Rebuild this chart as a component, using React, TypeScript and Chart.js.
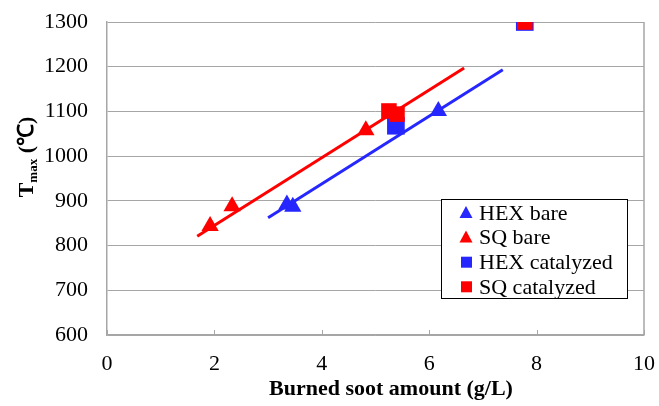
import { useEffect, useRef } from 'react';
import { Chart, registerables } from 'chart.js';
Chart.register(...registerables);

const hexBareX = [3.35, 3.46, 6.17];
const hexBareY = [892, 887, 1101];
const sqBareX = [1.92, 2.33, 4.82];
const sqBareY = [844, 888, 1058];
const hexCatX = [5.38, 7.78];
const hexCatY = [1068, 1300];
const sqCatX = [5.25, 5.4, 7.78];
const sqCatY = [1101, 1094, 1300];
const sqFitX = [1.68, 6.65];
const sqFitY = [821, 1197];
const hexFitX = [3.0, 7.37];
const hexFitY = [862, 1193];
const xTicks = [0, 2, 4, 6, 8, 10];
const yTicks = [600, 700, 800, 900, 1000, 1100, 1200, 1300];
const legendLabels = ['HEX bare', 'SQ bare', 'HEX catalyzed', 'SQ catalyzed'];

const BLUE = '#2626ff';
const RED = '#ff0000';
const GRID = '#a6a6a6';
const SERIF = '"Liberation Serif", "Times New Roman", serif';

const pts = (xs: number[], ys: number[]) => xs.map((x, i) => ({ x, y: ys[i] }));

export default function App() {
  const ref = useRef<HTMLCanvasElement>(null);
  useEffect(() => {
    document.body.style.margin = '0';
    const canvas = ref.current!;
    const decor = {
      id: 'decor',
      beforeDatasetsDraw(chart: any) {
        const { ctx, chartArea: a, scales } = chart;
        ctx.save();
        ctx.strokeStyle = GRID;
        ctx.lineWidth = 1.5;
        ctx.beginPath();
        ctx.moveTo(a.right, a.top);
        ctx.lineTo(a.right, a.bottom);
        ctx.stroke();
        ctx.lineWidth = 1;
        for (const t of xTicks) {
          const x = Math.round(scales.x.getPixelForValue(t)) + 0.5;
          ctx.beginPath();
          ctx.moveTo(x, a.bottom);
          ctx.lineTo(x, a.bottom - 5);
          ctx.stroke();
        }
        ctx.restore();
      },
      afterDraw(chart: any) {
        const { ctx } = chart;
        ctx.save();
        ctx.fillStyle = '#000';
        ctx.font = `bold 22px ${SERIF}`;
        ctx.textAlign = 'center';
        ctx.textBaseline = 'middle';
        ctx.fillText('Burned soot amount (g/L)', 391, 389);
        ctx.translate(26, 157);
        ctx.rotate(-Math.PI / 2);
        ctx.textAlign = 'left';
        ctx.textBaseline = 'alphabetic';
        const big = `bold 22px ${SERIF}`;
        const small = `bold 13px ${SERIF}`;
        ctx.font = big;
        const wT = ctx.measureText('T').width;
        const wP = ctx.measureText(' (℃)').width;
        ctx.font = small;
        const wM = ctx.measureText('max').width;
        const total = wT + wM + wP;
        let x = -total / 2;
        const base = 7;
        ctx.font = big;
        ctx.fillText('T', x, base);
        x += wT;
        ctx.font = small;
        ctx.fillText('max', x, base + 4);
        x += wM;
        ctx.font = big;
        ctx.fillText(' (℃)', x, base);
        ctx.restore();

        ctx.save();
        const lx = 441, ly = 199, lw = 186, lh = 99;
        ctx.fillStyle = '#fff';
        ctx.fillRect(lx, ly, lw, lh);
        ctx.strokeStyle = '#000';
        ctx.lineWidth = 1;
        ctx.strokeRect(lx + 0.5, ly + 0.5, lw, lh);
        const styles = [
          { c: BLUE, s: 'triangle' },
          { c: RED, s: 'triangle' },
          { c: BLUE, s: 'rect' },
          { c: RED, s: 'rect' },
        ];
        ctx.font = `22px ${SERIF}`;
        ctx.textBaseline = 'middle';
        ctx.textAlign = 'left';
        legendLabels.forEach((lab, i) => {
          const cy = 213 + i * 24.6;
          const st = styles[i];
          ctx.fillStyle = st.c;
          if (st.s === 'triangle') {
            ctx.beginPath();
            ctx.moveTo(466, cy - 7);
            ctx.lineTo(472.5, cy + 5);
            ctx.lineTo(459.5, cy + 5);
            ctx.closePath();
            ctx.fill();
          } else {
            ctx.fillRect(461, cy - 5.5, 11, 11);
          }
          ctx.fillStyle = '#000';
          ctx.fillText(lab, 479, cy + 1);
        });
        ctx.restore();
      },
    };

    const chart = new Chart(canvas, {
      type: 'scatter',
      data: {
        datasets: [
          {
            label: 'SQ catalyzed', data: pts(sqCatX, sqCatY), pointStyle: 'rect', pointRadius: 11,
            backgroundColor: RED, borderColor: RED, borderWidth: 0, order: 0,
          },
          {
            label: 'HEX catalyzed', data: pts(hexCatX, hexCatY), pointStyle: 'rect', pointRadius: 12.5,
            backgroundColor: BLUE, borderColor: BLUE, borderWidth: 0, order: 1,
          },
          {
            label: 'SQ bare', data: pts(sqBareX, sqBareY), pointStyle: 'triangle', pointRadius: 10,
            backgroundColor: RED, borderColor: RED, borderWidth: 0, order: 2,
          },
          {
            label: 'HEX bare', data: pts(hexBareX, hexBareY), pointStyle: 'triangle', pointRadius: 10,
            backgroundColor: BLUE, borderColor: BLUE, borderWidth: 0, order: 3,
          },
          {
            type: 'line', label: 'SQ fit', data: pts(sqFitX, sqFitY), borderColor: RED, borderWidth: 3,
            pointRadius: 0, showLine: true, fill: false, order: 10,
          } as any,
          {
            type: 'line', label: 'HEX fit', data: pts(hexFitX, hexFitY), borderColor: BLUE, borderWidth: 3,
            pointRadius: 0, showLine: true, fill: false, order: 11,
          } as any,
        ],
      },
      options: {
        animation: false,
        responsive: false,
        layout: { padding: { top: 22, right: 15, left: 0, bottom: 0 } },
        plugins: { legend: { display: false }, tooltip: { enabled: false } },
        scales: {
          x: {
            type: 'linear', min: 0, max: 10,
            afterFit: (s: any) => { s.height = 71; s.paddingLeft = 0; s.paddingRight = 0; },
            afterBuildTicks: (s: any) => { s.ticks = xTicks.map((v) => ({ value: v })); },
            grid: { display: false },
            border: { display: true, color: GRID, width: 1.5 },
            ticks: { font: { family: SERIF, size: 22 }, color: '#000', padding: 8, maxRotation: 0, callback: (v: any) => String(v) },
          },
          y: {
            type: 'linear', min: 600, max: 1300,
            afterFit: (s: any) => { s.width = 107; s.paddingTop = 0; s.paddingBottom = 0; },
            afterBuildTicks: (s: any) => { s.ticks = yTicks.map((v) => ({ value: v })); },
            grid: { color: GRID, lineWidth: 1, drawTicks: false },
            border: { display: true, color: GRID, width: 1.5 },
            ticks: { font: { family: SERIF, size: 22 }, color: '#000', padding: 19, callback: (v: any) => String(v) },
          },
        },
      },
      plugins: [decor],
    });
    return () => chart.destroy();
  }, []);
  return (
    <div style={{ width: 659, height: 406 }}>
      <canvas ref={ref} width={659} height={406} style={{ display: 'block' }} />
    </div>
  );
}
